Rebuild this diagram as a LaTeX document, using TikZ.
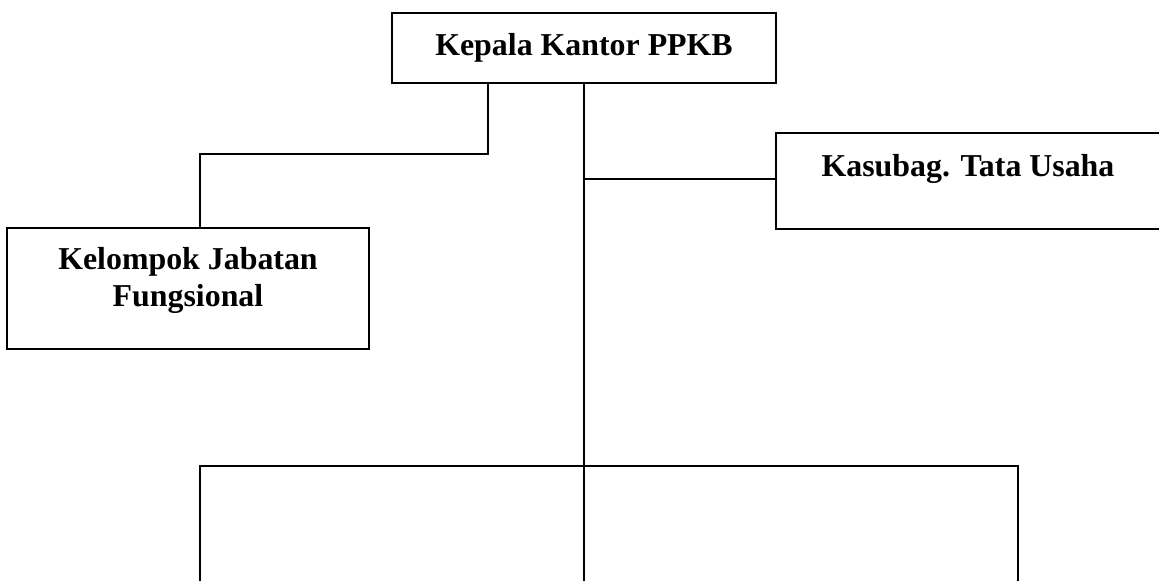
\documentclass[tikz,border=0pt]{standalone}
\usepackage{fontspec}
\setmainfont{Liberation Serif}
\usepackage{tikz}
\usetikzlibrary{positioning}

\begin{document}
\begin{tikzpicture}[
    x=0.75pt, y=-0.75pt,
    unit/.style={rectangle, draw=black, line width=1.1pt, align=center, inner sep=0pt, font=\fontsize{23.9}{27.8}\selectfont\bfseries},
    line/.style={line width=1.1pt, color=black}
]
\useasboundingbox (0,0) rectangle (1159,581);
% Nodes
\node[unit, minimum width=288pt, minimum height=52.5pt] (kepala) at (584,48) {Kepala Kantor PPKB};
\node[unit, minimum width=288pt, minimum height=72pt, text depth=24pt] (kasubag) at (968,181) {Kasubag. Tata Usaha};
\node[unit, minimum width=271.5pt, minimum height=90.75pt, text depth=18pt] (kelompok) at (188,288.5) {Kelompok Jabatan\\Fungsional};
% Free ends of the lower branch
\coordinate (hub) at (584,466);
\coordinate (leftend) at (200,590);
\coordinate (midend) at (584,590);
\coordinate (rightend) at (1018,590);
% Lines
\draw[line] (kepala.south -| 488,0) |- (200,154) -- (kelompok.north -| 200,0);
\draw[line] (kepala.south) -- (hub);
\draw[line] (584,179) -- (kasubag.west |- 0,179);
\draw[line] (leftend) |- (hub) -| (rightend);
\draw[line] (hub) -- (midend);
\end{tikzpicture}
\end{document}
